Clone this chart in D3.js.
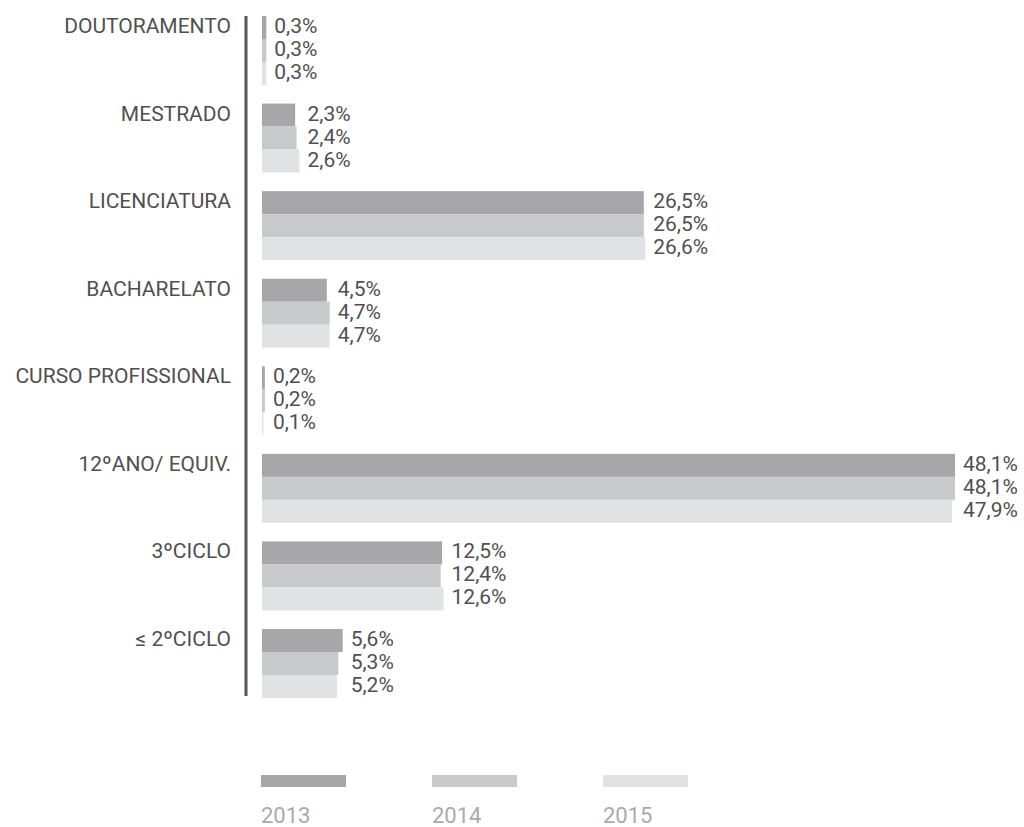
<!DOCTYPE html>
<html>
<head>
<meta charset="utf-8">
<script src="https://cdn.jsdelivr.net/npm/d3@7/dist/d3.min.js"></script>
<style>
  html, body { margin: 0; padding: 0; background: #fff; }
  svg { display: block; font-family: Roboto, "Noto Sans", sans-serif; }
</style>
</head>
<body>
<div id="chart"></div>
<script>
// categories top to bottom
const categories = ['DOUTORAMENTO', 'MESTRADO', 'LICENCIATURA', 'BACHARELATO',
  'CURSO PROFISSIONAL', '12ºANO/ EQUIV.', '3ºCICLO', '≤ 2ºCICLO'];
const years = ['2013', '2014', '2015'];

// percent values per year, same order as categories
const values2013 = [0.3, 2.3, 26.5, 4.5, 0.2, 48.1, 12.5, 5.6];
const values2014 = [0.3, 2.4, 26.5, 4.7, 0.2, 48.1, 12.4, 5.3];
const values2015 = [0.3, 2.6, 26.6, 4.7, 0.1, 47.9, 12.6, 5.2];

const colors = ['#a7a7aa', '#c8c9cb', '#e1e2e4'];

const width = 1024;
const height = 827;

const series = [values2013, values2014, values2015];
const fmt = v => v.toFixed(1).replace('.', ',') + '%';

const svg = d3.select('#chart')
  .append('svg')
  .attr('width', width)
  .attr('height', height);

const x = d3.scaleLinear().domain([0, 48.1]).range([262, 955]);

const y = d3.scaleBand()
  .domain(categories)
  .range([16, 698])
  .paddingInner(0.2123)
  .paddingOuter(0);

const yInner = d3.scaleBand()
  .domain(years)
  .range([0, y.bandwidth()]);

const groups = svg.selectAll('.group')
  .data(categories)
  .enter()
  .append('g')
  .attr('class', 'group')
  .attr('transform', d => `translate(0,${y(d)})`);

// category labels
groups.append('text')
  .attr('x', 231)
  .attr('y', 17)
  .attr('text-anchor', 'end')
  .attr('font-size', 21)
  .attr('fill', '#505050')
  .text(d => d);

groups.each(function (cat, i) {
  const g = d3.select(this);
  const vals = series.map(s => s[i]);
  const labelX = x(d3.max(vals)) + 8;

  g.selectAll('rect')
    .data(vals)
    .enter()
    .append('rect')
    .attr('x', x(0))
    .attr('y', (d, j) => yInner(years[j]))
    .attr('width', d => x(d) - x(0))
    .attr('height', yInner.bandwidth())
    .attr('fill', (d, j) => colors[j]);

  g.selectAll('.val')
    .data(vals)
    .enter()
    .append('text')
    .attr('class', 'val')
    .attr('x', labelX)
    .attr('y', (d, j) => yInner(years[j]) + 17)
    .attr('font-size', 21)
    .attr('fill', '#505050')
    .text(fmt);
});

// vertical axis line
svg.append('line')
  .attr('x1', 246)
  .attr('x2', 246)
  .attr('y1', y.range()[0])
  .attr('y2', y.range()[1] - 2)
  .attr('stroke', '#555')
  .attr('stroke-width', 3);

// legend
const lx = d3.scalePoint()
  .domain(years)
  .range([261, 261 + 2 * 171]);

const legend = svg.selectAll('.legend')
  .data(years)
  .enter()
  .append('g')
  .attr('class', 'legend')
  .attr('transform', d => `translate(${lx(d)},0)`);

legend.append('rect')
  .attr('x', 0)
  .attr('y', 775)
  .attr('width', 85)
  .attr('height', 12)
  .attr('fill', (d, i) => colors[i]);

legend.append('text')
  .attr('x', 0)
  .attr('y', 823)
  .attr('font-size', 22)
  .attr('fill', '#aaaaac')
  .text(d => d);
</script>
</body>
</html>
